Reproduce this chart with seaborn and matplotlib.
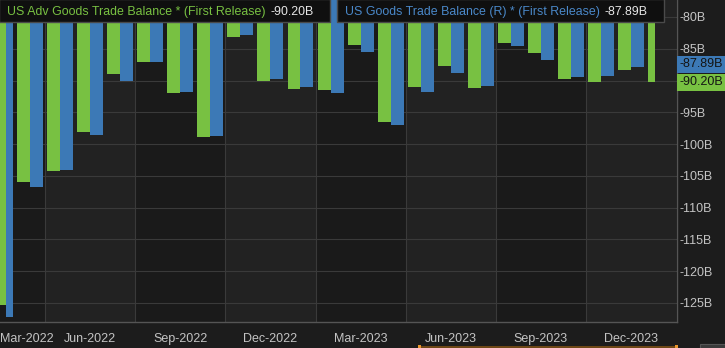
import numpy as np
import pandas as pd
import matplotlib
matplotlib.use("Agg")
import matplotlib.pyplot as plt
from matplotlib.patches import Rectangle
import seaborn as sns

# Monthly US goods trade balance, billions of USD
months = ["Mar-2022", "Apr-2022", "May-2022", "Jun-2022", "Jul-2022", "Aug-2022",
          "Sep-2022", "Oct-2022", "Nov-2022", "Dec-2022", "Jan-2023", "Feb-2023",
          "Mar-2023", "Apr-2023", "May-2023", "Jun-2023", "Jul-2023", "Aug-2023",
          "Sep-2023", "Oct-2023", "Nov-2023", "Dec-2023", "Jan-2024"]
adv_goods_balance = [-125.3, -105.9, -104.3, -98.1, -88.9, -87.1,
                     -92.0, -98.9, -83.2, -90.1, -91.4, -91.5,
                     -84.4, -96.6, -91.0, -87.7, -91.1, -84.1,
                     -85.7, -89.8, -90.2, -88.3, -90.20]
goods_balance_r = [-127.2, -106.7, -104.1, -98.6, -90.0, -87.1,
                   -91.8, -98.7, -82.8, -89.7, -91.0, -91.9,
                   -85.5, -97.0, -91.8, -88.8, -90.8, -84.6,
                   -86.8, -89.5, -89.3, -87.89, np.nan]
series_names = ["US Adv Goods Trade Balance * (First Release)",
                "US Goods Trade Balance (R) * (First Release)"]
tick_months = ["Mar-2022", "Jun-2022", "Sep-2022", "Dec-2022",
               "Mar-2023", "Jun-2023", "Sep-2023", "Dec-2023"]
y_ticks = [-80, -85, -90, -95, -100, -105, -110, -115, -120, -125]

GREEN = "#78c142"
BLUE = "#3c79b6"
BG = "#1c1c1c"
BAND_DARK = "#1a1a1a"
BAND_LIGHT = "#222222"
GRID = "#3a3a3a"
TEXT = "#c4c4c4"

W, H = 725, 348

sns.set_style("dark", {"axes.facecolor": BAND_DARK, "figure.facecolor": BG})
plt.rcParams["font.family"] = ["Liberation Sans", "DejaVu Sans"]

df = pd.DataFrame({
    "month": months * 2,
    "value": adv_goods_balance + goods_balance_r,
    "series": [series_names[0]] * len(months) + [series_names[1]] * len(months),
})

fig = plt.figure(figsize=(W / 100, H / 100), dpi=100, facecolor=BG)
ax = fig.add_axes([0, 26 / H, 677 / W, 322 / H])
ax.set_facecolor(BAND_DARK)

sns.barplot(data=df, x="month", y="value", hue="series", order=months,
            hue_order=series_names, palette=[GREEN, BLUE], width=0.864,
            saturation=1, errorbar=None, linewidth=0, legend=False,
            zorder=3, ax=ax)

# the end months get half-width slots, squeezed toward the inside
last = len(months) - 1
for cont in ax.containers:
    for p in cont.patches:
        w = p.get_width()
        xl = p.get_x()
        i = int(round(xl + w / 2))
        if i == 0:
            p.set_x(i + (xl - i) / 2 + w / 2)
            p.set_width(w / 2)
        elif i == last:
            p.set_x(i + (xl - i) / 2 - w / 2)
            p.set_width(w / 2)

ax.set_xlim(0.043, 22.53)
ax.set_ylim(-128.0, -77.33)

# alternating quarter bands and grid
for k in range(8):
    x0 = -1.5 + 3 * k
    if k % 2 == 1:
        ax.axvspan(x0, x0 + 3, color=BAND_LIGHT, lw=0, zorder=0.2)
    ax.axvline(x0, color=GRID, lw=0.8, zorder=0.5)
for v in y_ticks:
    ax.axhline(v, color=GRID, lw=0.8, zorder=0.5)

# the -90B level sits under the latest-value tag, so its label stays blank
ax.yaxis.tick_right()
ax.set_yticks(y_ticks)
ax.set_yticklabels(["" if v == -90 else f"{v}B" for v in y_ticks])
ax.tick_params(axis="y", length=0, pad=2, labelcolor=TEXT, labelsize=9)

tick_pos = [months.index(m) for m in tick_months]
ax.set_xticks(tick_pos)
ax.set_xticklabels(tick_months)
ax.tick_params(axis="x", length=4, width=1, color="#5a5a5a", pad=4,
               labelcolor=TEXT, labelsize=9)
ax.get_xticklabels()[0].set_ha("left")
ax.set_xlabel("")
ax.set_ylabel("")
ax.grid(False)

for side in ["top", "left"]:
    ax.spines[side].set_visible(False)
for side in ["bottom", "right"]:
    ax.spines[side].set_visible(True)
    ax.spines[side].set_color("#555555")
    ax.spines[side].set_linewidth(1)

# latest-value tags on the right axis
ax.annotate(f"{adv_goods_balance[-1]:.2f}B", xy=(1, adv_goods_balance[-1]),
            xycoords=("axes fraction", "data"), xytext=(2, -0.5),
            textcoords="offset points", ha="left", va="center",
            color="#141414", fontsize=9, annotation_clip=False, zorder=6,
            bbox=dict(boxstyle="square,pad=0.22", fc=GREEN, ec="none"))
ax.annotate(f"{goods_balance_r[-2]:.2f}B", xy=(1, goods_balance_r[-2]),
            xycoords=("axes fraction", "data"), xytext=(2, 2),
            textcoords="offset points", ha="left", va="center",
            color="#141414", fontsize=9, annotation_clip=False, zorder=6,
            bbox=dict(boxstyle="square,pad=0.22", fc=BLUE, ec="none"))


def fx(x):
    return x / W


def fy(y):
    return 1 - y / H


# series header boxes over the top of the plot
renderer = fig.canvas.get_renderer()
header_specs = [
    (0, series_names[0], GREEN, f"{adv_goods_balance[-1]:.2f}B"),
    (338, series_names[1], "#4a88c9", f"{goods_balance_r[-2]:.2f}B"),
]
for x_left, name, col, val in header_specs:
    t1 = fig.text(fx(x_left + 7), fy(12), name, color=col, fontsize=8.9,
                  ha="left", va="center", zorder=11)
    ext = t1.get_window_extent(renderer)
    t2 = fig.text(fx(ext.x1 + 5), fy(12), val, color="#e6e6e6", fontsize=8.9,
                  ha="left", va="center", zorder=11)
    ext2 = t2.get_window_extent(renderer)
    right = ext2.x1 + 16
    fig.add_artist(Rectangle((fx(x_left - 1), fy(22)), fx(right - x_left + 1),
                             23 / H, transform=fig.transFigure, fc="#0f0f0f",
                             ec="#4a4a4a", lw=1, zorder=10))

# range navigator strip along the bottom edge
fig.add_artist(Rectangle((fx(419), fy(348)), fx(258), 2.5 / H,
                         transform=fig.transFigure, fc="#6e4716", ec="none",
                         zorder=10))
for hx in (418, 675):
    fig.add_artist(Rectangle((fx(hx), fy(348)), fx(3), 3.5 / H,
                             transform=fig.transFigure, fc="#e8962e",
                             ec="none", zorder=11))
fig.add_artist(Rectangle((fx(700), fy(348)), fx(25), 4.5 / H,
                         transform=fig.transFigure, fc="#3a3a3a",
                         ec="#555555", lw=0.8, zorder=10))

fig.savefig("out.png", dpi=100, facecolor=BG)
